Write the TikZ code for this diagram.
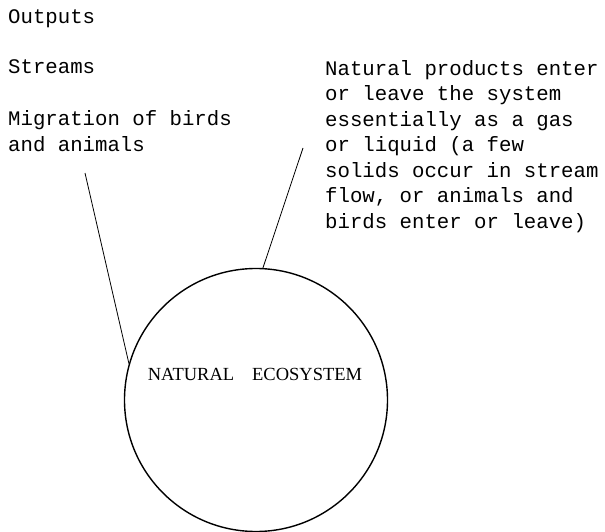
\documentclass[tikz,border=0pt]{standalone}
\usepackage{fontspec}
\setmainfont{Liberation Serif}
\setmonofont{Liberation Mono}
\tikzset{
  txt/.style={anchor=base west, inner sep=0pt, align=left,
    font=\ttfamily\fontsize{20.7}{25.5}\selectfont},
  ecosys/.style={draw, circle, line width=1.4pt, minimum size=263pt, inner sep=0pt},
}
\begin{document}
\begin{tikzpicture}[x=1pt,y=-1pt]
  \useasboundingbox (0,0) rectangle (605,532);
  % Textos de la izquierda (base = ultima linea)
  \node[txt] (outputs) at (8,24) {Outputs};
  \node[txt] (streams) at (8,74) {Streams};
  \node[txt] (migration) at (8,151) {Migration of birds\\and animals};
  % Texto de la derecha
  \node[txt] (products) at (325,228) {Natural products enter\\or leave the system\\essentially as a gas\\or liquid (a few\\solids occur in stream\\flow, or animals and\\birds enter or leave)};

  % Ecosistema
  \node[ecosys] (eco) at (256,400) {};
  \node[anchor=base, inner sep=0pt, font=\fontsize{18.5}{22}\selectfont] (ecotext) at (255,380) {NATURAL\hspace{18pt}ECOSYSTEM};

  % Lineas
  \coordinate (mtail) at (85,173);
  \coordinate (ptail) at (303,148);
  \draw[line width=0.8pt] (mtail) -- (eco.164);
  \draw[line width=0.8pt] (ptail) -- (eco.87);
\end{tikzpicture}
\end{document}
